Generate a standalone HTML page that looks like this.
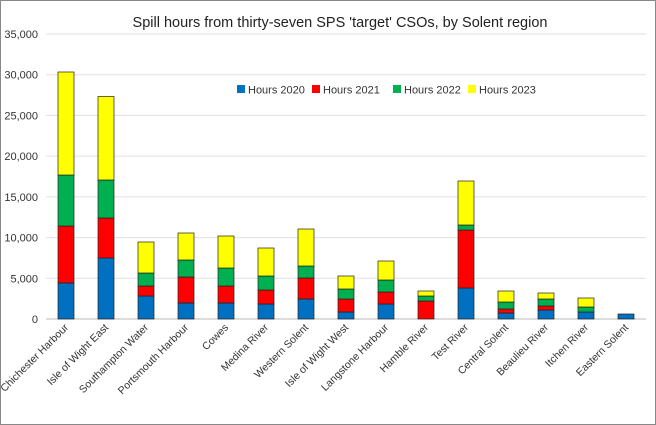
<!DOCTYPE html>
<html><head><style>
body{margin:0;background:#fff}
svg{display:block;font-family:"Liberation Sans",sans-serif}
</style></head><body>
<svg width="656" height="425" viewBox="0 0 656 425" xmlns="http://www.w3.org/2000/svg">
<rect x="0.5" y="0.5" width="655" height="424" fill="#fff" stroke="#888"/>
<text x="340" y="27" font-size="14.5" text-anchor="middle" fill="#222">Spill hours from thirty-seven SPS 'target' CSOs, by Solent region</text>
<g stroke="#e0e0e0" stroke-width="1">
<line x1="46" x2="646" y1="34" y2="34"/><line x1="46" x2="646" y1="74.7" y2="74.7"/>
<line x1="46" x2="646" y1="115.4" y2="115.4"/><line x1="46" x2="646" y1="156.1" y2="156.1"/>
<line x1="46" x2="646" y1="196.9" y2="196.9"/><line x1="46" x2="646" y1="237.6" y2="237.6"/>
<line x1="46" x2="646" y1="278.3" y2="278.3"/>
</g>
<line x1="46" x2="646" y1="319" y2="319" stroke="#bbb"/>
<g font-size="11" fill="#333" text-anchor="end">
<text x="38" y="38">35,000</text><text x="38" y="78.7">30,000</text><text x="38" y="119.4">25,000</text>
<text x="38" y="160.1">20,000</text><text x="38" y="200.9">15,000</text><text x="38" y="241.6">10,000</text>
<text x="38" y="282.3">5,000</text><text x="38" y="323">0</text>
</g>
<g stroke="#222" stroke-width="0.7">
<rect x="58" y="283" width="16" height="36" fill="#0070c0"/><rect x="58" y="226" width="16" height="57" fill="#ff0000"/><rect x="58" y="175" width="16" height="51" fill="#00b050"/><rect x="58" y="72" width="16" height="103" fill="#ffff00"/>
<rect x="98" y="258" width="16" height="61" fill="#0070c0"/><rect x="98" y="218" width="16" height="40" fill="#ff0000"/><rect x="98" y="180" width="16" height="38" fill="#00b050"/><rect x="98" y="96.5" width="16" height="83.5" fill="#ffff00"/>
<rect x="138" y="296" width="16" height="23" fill="#0070c0"/><rect x="138" y="286" width="16" height="10" fill="#ff0000"/><rect x="138" y="273" width="16" height="13" fill="#00b050"/><rect x="138" y="242" width="16" height="31" fill="#ffff00"/>
<rect x="178" y="303" width="16" height="16" fill="#0070c0"/><rect x="178" y="277" width="16" height="26" fill="#ff0000"/><rect x="178" y="260" width="16" height="17" fill="#00b050"/><rect x="178" y="233" width="16" height="27" fill="#ffff00"/>
<rect x="218" y="303" width="16" height="16" fill="#0070c0"/><rect x="218" y="286" width="16" height="17" fill="#ff0000"/><rect x="218" y="268" width="16" height="18" fill="#00b050"/><rect x="218" y="236" width="16" height="32" fill="#ffff00"/>
<rect x="258" y="304" width="16" height="15" fill="#0070c0"/><rect x="258" y="290" width="16" height="14" fill="#ff0000"/><rect x="258" y="276" width="16" height="14" fill="#00b050"/><rect x="258" y="248" width="16" height="28" fill="#ffff00"/>
<rect x="298" y="299" width="16" height="20" fill="#0070c0"/><rect x="298" y="278" width="16" height="21" fill="#ff0000"/><rect x="298" y="266" width="16" height="12" fill="#00b050"/><rect x="298" y="229" width="16" height="37" fill="#ffff00"/>
<rect x="338" y="312" width="16" height="7" fill="#0070c0"/><rect x="338" y="299" width="16" height="13" fill="#ff0000"/><rect x="338" y="289" width="16" height="10" fill="#00b050"/><rect x="338" y="276" width="16" height="13" fill="#ffff00"/>
<rect x="378" y="304" width="16" height="15" fill="#0070c0"/><rect x="378" y="292" width="16" height="12" fill="#ff0000"/><rect x="378" y="280" width="16" height="12" fill="#00b050"/><rect x="378" y="261" width="16" height="19" fill="#ffff00"/>
<rect x="418" y="301" width="16" height="18" fill="#ff0000"/><rect x="418" y="296" width="16" height="5" fill="#00b050"/><rect x="418" y="291" width="16" height="5" fill="#ffff00"/>
<rect x="458" y="288" width="16" height="31" fill="#0070c0"/><rect x="458" y="230" width="16" height="58" fill="#ff0000"/><rect x="458" y="225" width="16" height="5" fill="#00b050"/><rect x="458" y="181" width="16" height="44" fill="#ffff00"/>
<rect x="498" y="313" width="16" height="6" fill="#0070c0"/><rect x="498" y="309" width="16" height="4" fill="#ff0000"/><rect x="498" y="302" width="16" height="7" fill="#00b050"/><rect x="498" y="291" width="16" height="11" fill="#ffff00"/>
<rect x="538" y="310" width="16" height="9" fill="#0070c0"/><rect x="538" y="306" width="16" height="4" fill="#ff0000"/><rect x="538" y="299" width="16" height="7" fill="#00b050"/><rect x="538" y="293" width="16" height="6" fill="#ffff00"/>
<rect x="578" y="312" width="16" height="7" fill="#0070c0"/><rect x="578" y="307" width="16" height="5" fill="#00b050"/><rect x="578" y="298" width="16" height="9" fill="#ffff00"/>
<rect x="618" y="314" width="16" height="5" fill="#0070c0"/>
</g>
<g font-size="11" fill="#333">
<rect x="237" y="85" width="8" height="8" fill="#0070c0"/><text x="248" y="93.5">Hours 2020</text>
<rect x="312" y="85" width="8" height="8" fill="#ff0000"/><text x="323" y="93.5">Hours 2021</text>
<rect x="393" y="85" width="8" height="8" fill="#00b050"/><text x="404" y="93.5">Hours 2022</text>
<rect x="468" y="85" width="8" height="8" fill="#ffff00"/><text x="479" y="93.5">Hours 2023</text>
</g>
<g font-size="10.5" fill="#333" text-anchor="end">
<text transform="translate(69,328) rotate(-45)">Chichester Harbour</text>
<text transform="translate(109,328) rotate(-45)">Isle of Wight East</text>
<text transform="translate(149,328) rotate(-45)">Southampton Water</text>
<text transform="translate(189,328) rotate(-45)">Portsmouth Harbour</text>
<text transform="translate(229,328) rotate(-45)">Cowes</text>
<text transform="translate(269,328) rotate(-45)">Medina River</text>
<text transform="translate(309,328) rotate(-45)">Western Solent</text>
<text transform="translate(349,328) rotate(-45)">Isle of Wight West</text>
<text transform="translate(389,328) rotate(-45)">Langstone Harbour</text>
<text transform="translate(429,328) rotate(-45)">Hamble River</text>
<text transform="translate(469,328) rotate(-45)">Test River</text>
<text transform="translate(509,328) rotate(-45)">Central Solent</text>
<text transform="translate(549,328) rotate(-45)">Beaulieu River</text>
<text transform="translate(589,328) rotate(-45)">Itchen River</text>
<text transform="translate(629,328) rotate(-45)">Eastern Solent</text>
</g>
</svg>
</body></html>
